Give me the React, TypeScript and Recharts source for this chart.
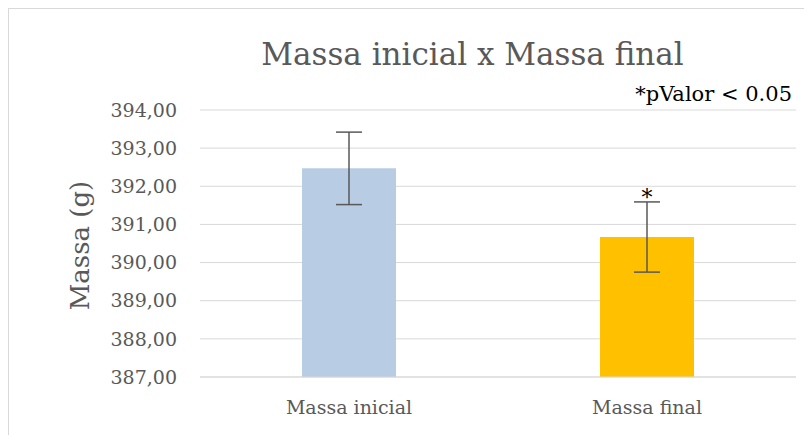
import { BarChart, Bar, XAxis, YAxis, CartesianGrid, ErrorBar, Cell, ReferenceDot } from "recharts"

const categories = ["Massa inicial", "Massa final"]
const means = [392.47, 390.67]
const errors = [0.95, 0.92]
const colors = ["#B8CCE4", "#FFC000"]
const yTicks = [387, 388, 389, 390, 391, 392, 393, 394]

const chartData = categories.map((name, i) => ({ name, value: means[i], err: errors[i] }))

const font = "'DejaVu Serif', 'Liberation Serif', serif"
const gray = "#595959"

const fmt = (v: number) => v.toFixed(2).replace(".", ",")

export default function App() {
  return (
    <div
      style={{
        position: "relative",
        width: 797,
        height: 427,
        boxSizing: "border-box",
        borderTop: "1px solid #d9d9d9",
        borderLeft: "1px solid #d9d9d9",
        borderRight: "1px solid #d9d9d9",
        background: "#fff",
        overflow: "hidden",
      }}
    >
      <BarChart
        width={795}
        height={426}
        data={chartData}
        margin={{ top: 101, right: 8, left: 0, bottom: 0 }}
        barSize={94}
        style={{ fontFamily: font }}
      >
        <CartesianGrid vertical={false} stroke="#d9d9d9" strokeWidth={1} />
        <XAxis
          dataKey="name"
          height={58}
          axisLine={{ stroke: "#d9d9d9" }}
          tickLine={false}
          tickSize={0}
          tickMargin={24}
          tick={{ fill: gray, fontSize: 19, fontFamily: font }}
        />
        <YAxis
          width={191}
          domain={[387, 394]}
          ticks={yTicks}
          tickFormatter={fmt}
          axisLine={false}
          tickLine={false}
          tickSize={0}
          tickMargin={23}
          tick={{ fill: gray, fontSize: 19, fontFamily: font }}
          label={{
            content: (props: any) => {
              const vb = props.viewBox || { y: 101, height: 267 }
              const cy = vb.y + vb.height / 2 + 2
              return (
                <text
                  x={71}
                  y={cy}
                  transform={`rotate(-90, 71, ${cy})`}
                  textAnchor="middle"
                  dominantBaseline="central"
                  fill={gray}
                  fontSize={26}
                  fontFamily={font}
                >
                  Massa (g)
                </text>
              )
            },
          }}
        />
        <Bar dataKey="value" isAnimationActive={false}>
          {chartData.map((d, i) => (
            <Cell key={d.name} fill={colors[i]} />
          ))}
          <ErrorBar dataKey="err" width={13} stroke={gray} strokeWidth={1.5} />
        </Bar>
        <ReferenceDot
          x={categories[1]}
          y={means[1] + errors[1]}
          r={0}
          fill="none"
          stroke="none"
          label={{ value: "*", position: "top", offset: -3, fill: "#000", fontSize: 22, fontFamily: font }}
        />
      </BarChart>
      <svg
        width={795}
        height={426}
        style={{ position: "absolute", left: 0, top: 0, pointerEvents: "none" }}
      >
        <text x={463.5} y={56} textAnchor="middle" fill={gray} fontSize={31} fontFamily={font}>
          Massa inicial x Massa final
        </text>
        <text x={783} y={92} textAnchor="end" fill="#000" fontSize={21} fontFamily={font}>
          *pValor &lt; 0.05
        </text>
      </svg>
    </div>
  )
}
